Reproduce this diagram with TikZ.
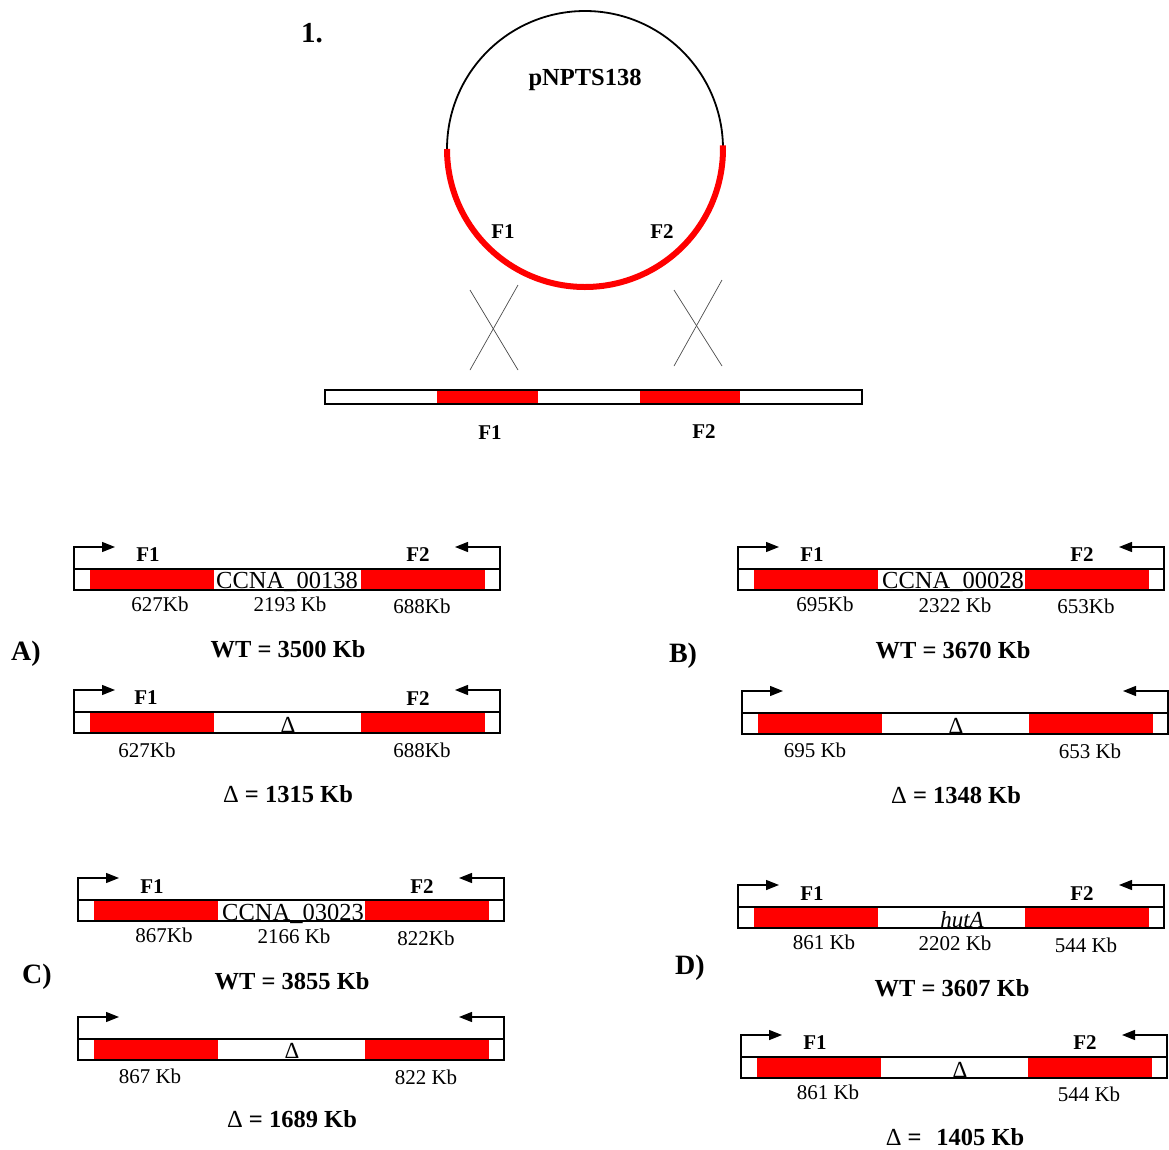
\documentclass[tikz,border=0pt]{standalone}
\usepackage{fontspec}
\setmainfont{Liberation Serif}
\usetikzlibrary{arrows.meta}
\definecolor{seg}{RGB}{255,0,0}

\tikzset{
  bar/.style={draw, line width=1.6pt, minimum width=426pt, minimum height=21pt,
    inner sep=0pt, outer sep=0pt, anchor=north west},
  primer/.style={line width=1.3pt, -{Triangle[length=13pt,width=10pt]}},
  size/.style={font=\fontsize{21}{24}\selectfont, inner sep=0pt},
  flank/.style={font=\bfseries\fontsize{21}{24}\selectfont, inner sep=0pt},
  total/.style={font=\bfseries\fontsize{24.5}{28}\selectfont, inner sep=0pt},
  genename/.style={font=\fontsize{24.5}{28}\selectfont, inner sep=0pt, anchor=base},
  deltamark/.style={font=\fontsize{23}{26}\selectfont, inner sep=0pt, anchor=base},
  panel/.style={font=\bfseries\fontsize{28}{30}\selectfont, inner sep=0pt},
  crossing/.style={line width=0.7pt, black!70},
}

% one locus: white bar, two red flanks, two primer arrows
\newcommand\locus[3]{%
  \node[bar] (#1) at (#2,#3) {};
  \fill[seg] ([xshift=16pt]#1.north west) rectangle ([xshift=140pt]#1.south west);
  \fill[seg] ([xshift=287pt]#1.north west) rectangle ([xshift=411pt]#1.south west);
  \draw[line width=1.6pt] (#1.north west) rectangle (#1.south east);
  \coordinate (#1-fwd) at ([xshift=41pt,yshift=22pt]#1.north west);
  \coordinate (#1-rev) at ([xshift=-45pt,yshift=22pt]#1.north east);
  \draw[primer] (#1.north west) |- (#1-fwd);
  \draw[primer] (#1.north east) |- (#1-rev);
}

\begin{document}
\begin{tikzpicture}[x=1pt, y=-1pt]
\useasboundingbox (0,0) rectangle (1169,1149);

% ---- plasmid and recombination ----
\node[panel, font=\bfseries\fontsize{29}{32}\selectfont] (num) at (312,33) {1.};
\coordinate (pc) at (585,149);
\draw[line width=1.8pt] (pc) circle[radius=138];
\draw[seg, line width=6pt] (447,149) arc[start angle=180, end angle=-1.5, radius=138];
\node[total] (pname) at (585,80) {pNPTS138};
\node[flank] (cf1) at (503,232) {F1};
\node[flank] (cf2) at (662,232) {F2};

\draw[crossing] (470,290) -- (518,370);
\draw[crossing] (518,285) -- (470,370);
\draw[crossing] (674,290) -- (722,366);
\draw[crossing] (722,280) -- (674,366);

\node[draw, line width=1.6pt, minimum width=537pt, minimum height=14pt, inner sep=0pt,
  outer sep=0pt, anchor=north west] (chrom) at (325,390) {};
\fill[seg] ([xshift=112pt]chrom.north west) rectangle ([xshift=213pt]chrom.south west);
\fill[seg] ([xshift=315pt]chrom.north west) rectangle ([xshift=415pt]chrom.south west);
\draw[line width=1.6pt] (chrom.north west) rectangle (chrom.south east);
\node[flank] (hf1) at (490,433) {F1};
\node[flank] (hf2) at (704,432) {F2};

% ---- A ----
\locus{aw}{74}{569}
\node[genename] (aw-g) at (287,588) {CCNA\_00138};
\node[flank] (aw-f1) at (148,555) {F1};
\node[flank] (aw-f2) at (418,555) {F2};
\node[size] (aw-s1) at (160,604) {627Kb};
\node[size] (aw-s2) at (290,604) {2193 Kb};
\node[size] (aw-s3) at (422,606) {688Kb};
\node[panel] (pa) at (26,654) {A)};
\node[total] (aw-t) at (288,649) {WT = 3500 Kb};
\locus{ad}{74}{712}
\node[deltamark] (ad-d) at (288,732) {Δ};
\node[flank] (ad-f1) at (146,698) {F1};
\node[flank] (ad-f2) at (418,699) {F2};
\node[size] (ad-s1) at (147,750) {627Kb};
\node[size] (ad-s3) at (422,750) {688Kb};
\node[total] (ad-t) at (288,794) {{\mdseries Δ} = 1315 Kb};

% ---- B ----
\locus{bw}{738}{569}
\node[genename] (bw-g) at (953,588) {CCNA\_00028};
\node[flank] (bw-f1) at (812,555) {F1};
\node[flank] (bw-f2) at (1082,555) {F2};
\node[size] (bw-s1) at (825,604) {695Kb};
\node[size] (bw-s2) at (955,605) {2322 Kb};
\node[size] (bw-s3) at (1086,606) {653Kb};
\node[panel] (pb) at (683,656) {B)};
\node[total] (bw-t) at (953,650) {WT = 3670 Kb};
\locus{bd}{742}{713}
\node[deltamark] (bd-d) at (956,733) {Δ};
\node[size] (bd-s1) at (815,750) {695 Kb};
\node[size] (bd-s3) at (1090,751) {653 Kb};
\node[total] (bd-t) at (956,795) {{\mdseries Δ} = 1348 Kb};

% ---- C ----
\locus{cw}{78}{900}
\node[genename] (cw-g) at (293,920) {CCNA\_03023};
\node[flank] (cw-f1) at (152,887) {F1};
\node[flank] (cw-f2) at (422,887) {F2};
\node[size] (cw-s1) at (164,935) {867Kb};
\node[size] (cw-s2) at (294,936) {2166 Kb};
\node[size] (cw-s3) at (426,938) {822Kb};
\node[panel] (pc-l) at (37,977) {C)};
\node[total] (cw-t) at (292,981) {WT = 3855 Kb};
\locus{cd}{78}{1039}
\node[deltamark] (cd-d) at (292,1058) {Δ};
\node[size] (cd-s1) at (150,1076) {867 Kb};
\node[size] (cd-s3) at (426,1077) {822 Kb};
\node[total] (cd-t) at (292,1119) {{\mdseries Δ} = 1689 Kb};

% ---- D ----
\locus{dw}{738}{907}
\node[genename, font=\itshape\fontsize{23}{26}\selectfont] (dw-g) at (962,927) {hutA};
\node[flank] (dw-f1) at (812,894) {F1};
\node[flank] (dw-f2) at (1082,894) {F2};
\node[size] (dw-s1) at (824,942) {861 Kb};
\node[size] (dw-s2) at (955,943) {2202 Kb};
\node[size] (dw-s3) at (1086,945) {544 Kb};
\node[panel] (pd) at (690,968) {D)};
\node[total] (dw-t) at (952,988) {WT = 3607 Kb};
\locus{dd}{741}{1057}
\node[deltamark] (dd-d) at (960,1077) {Δ};
\node[flank] (dd-f1) at (815,1043) {F1};
\node[flank] (dd-f2) at (1085,1043) {F2};
\node[size] (dd-s1) at (828,1092) {861 Kb};
\node[size] (dd-s3) at (1089,1094) {544 Kb};
\node[total] (dd-t) at (955,1137) {{\mdseries Δ} =\hspace{0.6em}1405 Kb};
\end{tikzpicture}
\end{document}
